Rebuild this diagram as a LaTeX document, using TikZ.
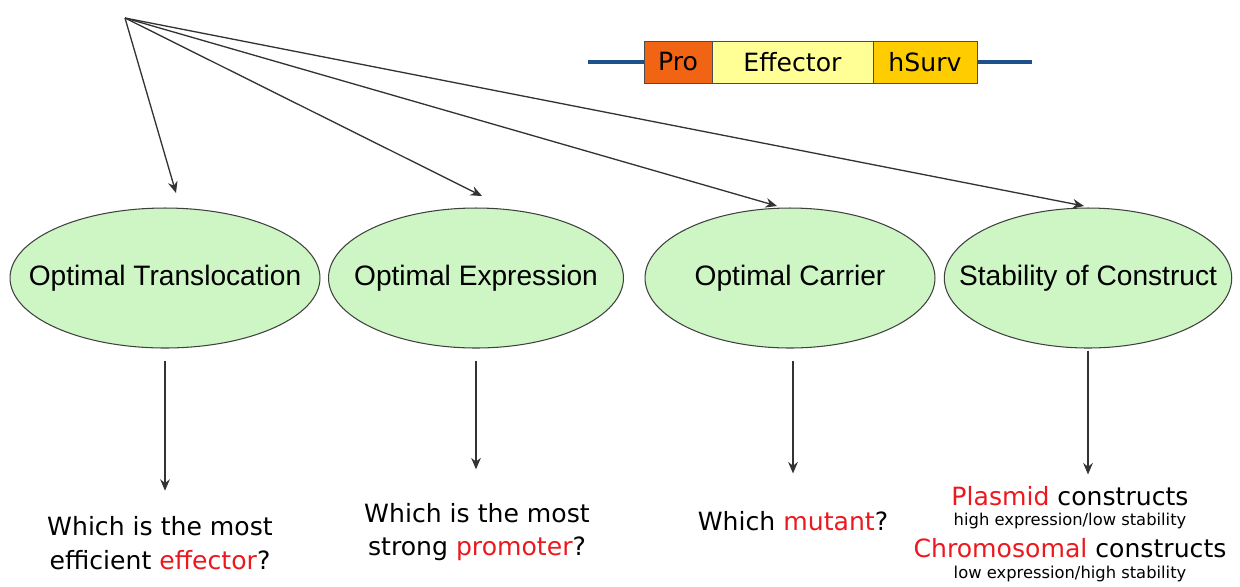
\documentclass[tikz,border=0pt]{standalone}
\usepackage{fontspec}
\setmainfont{Liberation Sans}
\newfontfamily\qfont{DejaVu Sans}
\usetikzlibrary{shapes,arrows.meta,positioning}

\definecolor{leafgreen}{RGB}{206,245,196}
\definecolor{proorange}{RGB}{240,100,20}
\definecolor{effyellow}{RGB}{255,255,150}
\definecolor{survgold}{RGB}{255,204,0}
\definecolor{backbone}{RGB}{30,80,140}
\definecolor{hired}{RGB}{235,25,30}

% ellipse size comes from minimum width/height only
\newcommand{\goaltext}[1]{\makebox[0pt]{#1}}

\begin{document}
\begin{tikzpicture}[
    x=0.02cm, y=-0.02cm,
    goal/.style={ellipse, draw=black!75, line width=0.6pt, fill=leafgreen, minimum width=6cm,
        minimum height=2.8cm, inner sep=0pt, font=\fontsize{16}{19}\selectfont},
    part/.style={rectangle, draw=black!70, minimum height=0.84cm, inner sep=0pt, outer sep=0pt,
        font=\qfont\fontsize{14.3}{17}\selectfont},
    question/.style={align=center, inner sep=2pt, font=\qfont\fontsize{14.3}{19}\selectfont},
    note/.style={inner sep=1pt, font=\qfont\fontsize{9.3}{11}\selectfont},
    arrow/.style={->, >={Stealth[length=6.5pt, width=5.5pt]}, line width=0.75pt, draw=black!80}
]
    \useasboundingbox (0,0) rectangle (1240,586);

    % construct
    \node[part, fill=proorange, minimum width=1.36cm, anchor=west] (pro) at (644,62) {Pro};
    \node[part, fill=effyellow, minimum width=3.22cm, right=0pt of pro] (eff) {Effector};
    \node[part, fill=survgold, minimum width=2.08cm, right=0pt of eff] (surv) {hSurv};
    \coordinate (bbl) at (588,62);
    \coordinate (bbr) at (1032,62);
    \draw[backbone, line width=2.2pt] (bbl) -- (pro.west);
    \draw[backbone, line width=2.2pt] (surv.east) -- (bbr);

    % the four criteria
    \node[goal, minimum width=6.2cm] (trans) at (165,278) {\goaltext{Optimal Translocation}};
    \node[goal, minimum width=5.9cm] (expr) at (476,278) {\goaltext{Optimal Expression}};
    \node[goal, minimum width=5.8cm] (carr) at (790,278) {\goaltext{Optimal Carrier}};
    \node[goal, minimum width=5.75cm] (stab) at (1088,278) {\goaltext{Stability of Construct}};

    \coordinate (root) at (125,18);
    \coordinate (t1) at (176,193);
    \coordinate (t2) at (482,196);
    \coordinate (t3) at (777,206);
    \coordinate (t4) at (1084,206);
    \draw[arrow] (root) -- (t1);
    \draw[arrow] (root) -- (t2);
    \draw[arrow] (root) -- (t3);
    \draw[arrow] (root) -- (t4);

    % questions
    \node[question] (q1) at (160,543) {Which is the most\\efficient {\color{hired}effector}?};
    \node[question] (q2) at (477,532) {Which is the most\\strong {\color{hired}promoter}?};
    \node[question] (q3) at (793,521) {Which {\color{hired}mutant}?};
    \node[question] (plas) at (1070,496) {{\color{hired}Plasmid} constructs};
    \node[note, below=1pt of plas] (plasn) {high expression/low stability};
    \node[question, below=2pt of plasn] (chro) {{\color{hired}Chromosomal} constructs};
    \node[note, below=1pt of chro] (chron) {low expression/high stability};

    \draw[arrow, shorten <=0.24cm, shorten >=0.44cm] (trans.south) -- (trans.south |- q1.north);
    \draw[arrow, shorten <=0.24cm, shorten >=0.6cm] (expr.south) -- (expr.south |- q2.north);
    \draw[arrow, shorten <=0.24cm, shorten >=0.68cm] (q3.north |- carr.south) -- (q3.north);
    \draw[arrow, shorten <=0.04cm, shorten >=0.16cm] (stab.south) -- (stab.south |- plas.north);
\end{tikzpicture}
\end{document}
